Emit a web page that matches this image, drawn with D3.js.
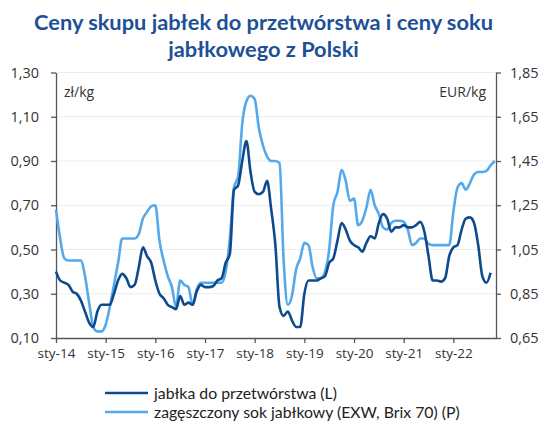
<!DOCTYPE html>
<html><head><meta charset="utf-8">
<script src="https://cdn.jsdelivr.net/npm/d3@7"></script>
<style>
html,body{margin:0;padding:0;background:#fff;}
svg{display:block;}
</style></head>
<body>
<svg id="chart" width="553" height="432"></svg>
<script>
const titleLines = ["Ceny skupu jabłek do przetwórstwa i ceny soku", "jabłkowego z Polski"];
const xTickLabels = ["sty-14","sty-15","sty-16","sty-17","sty-18","sty-19","sty-20","sty-21","sty-22"];
const leftTicks = [0.10,0.30,0.50,0.70,0.90,1.10,1.30];
const rightTicks = [0.65,0.85,1.05,1.25,1.45,1.65,1.85];
const seriesNames = ["jabłka do przetwórstwa (L)", "zagęszczony sok jabłkowy (EXW, Brix 70) (P)"];
// monthly values from Jan 2014 (PLN/kg)
const apples = [
 0.40,0.36,0.35,0.34,0.31,0.30,0.27,0.22,0.17,0.15,0.22,0.25,
 0.25,0.25,0.30,0.36,0.39,0.37,0.33,0.34,0.42,0.51,0.47,0.44,
 0.36,0.30,0.28,0.25,0.24,0.23,0.29,0.25,0.26,0.25,0.31,0.34,
 0.33,0.33,0.335,0.36,0.37,0.44,0.48,0.77,0.79,0.90,0.99,0.85,
 0.76,0.75,0.76,0.81,0.68,0.52,0.24,0.20,0.22,0.18,0.15,0.15,
 0.30,0.36,0.36,0.36,0.37,0.38,0.44,0.46,0.54,0.62,0.59,0.54,
 0.52,0.51,0.49,0.53,0.56,0.55,0.62,0.66,0.64,0.58,0.60,0.60,
 0.61,0.60,0.60,0.61,0.625,0.58,0.47,0.36,0.36,0.355,0.37,0.47,
 0.51,0.52,0.59,0.64,0.645,0.62,0.52,0.38,0.35,0.395
];
// monthly values from Jan 2014 (EUR/kg)
const juice = [
 1.23,1.10,1.01,1.00,1.00,1.00,1.00,0.93,0.81,0.70,0.68,0.68,
 0.71,0.79,0.89,0.99,1.10,1.10,1.10,1.10,1.12,1.19,1.22,1.245,
 1.25,1.09,1.00,0.93,0.88,0.79,0.91,0.89,0.88,0.80,0.87,0.90,
 0.90,0.90,0.90,0.90,0.90,0.95,1.10,1.33,1.38,1.62,1.72,1.745,
 1.73,1.60,1.52,1.47,1.45,1.45,1.44,1.00,0.80,0.84,0.96,1.01,
 1.08,1.07,0.97,0.92,0.92,0.95,1.05,1.25,1.31,1.41,1.36,1.27,
 1.28,1.16,1.18,1.24,1.32,1.25,1.21,1.15,1.14,1.17,1.18,1.18,
 1.175,1.14,1.07,1.08,1.10,1.10,1.075,1.07,1.07,1.07,1.07,1.07,
 1.22,1.33,1.35,1.32,1.35,1.39,1.40,1.40,1.405,1.43,1.45
];

const W = 553, H = 432;
const L = 56, R = 496, T = 72.5, B = 338;
const darkC = "#0d4a8e", lightC = "#55a8ea";
const svg = d3.select("#chart");

const x = d3.scaleLinear().domain([0, 106.3]).range([L, R]);
const yL = d3.scaleLinear().domain([0.10, 1.30]).range([B, T]);
const yR = d3.scaleLinear().domain([0.65, 1.85]).range([B, T]);
const fmt = d => d3.format(".2f")(d).replace(".", ",");

// title
svg.append("text").attr("x", 263.5).attr("text-anchor", "middle")
  .attr("font-family", "Lato, 'Open Sans', sans-serif").attr("font-weight", "bold")
  .attr("font-size", 21.8).attr("fill", "#1d5096")
  .selectAll("tspan").data(titleLines).join("tspan")
  .attr("x", 263.5).attr("y", (d, i) => 30 + i * 27).text(d => d);

// grid
svg.append("g").selectAll("line").data(leftTicks.slice(1)).join("line")
  .attr("x1", L).attr("x2", R).attr("y1", d => yL(d)).attr("y2", d => yL(d))
  .attr("stroke", "#ececec").attr("stroke-width", 1);

const axisFont = "'Open Sans', 'Noto Sans', sans-serif";
function styleAxis(g) {
  g.select(".domain").attr("stroke", "#555").attr("stroke-width", 1.3);
  g.selectAll(".tick line").attr("stroke", "#555").attr("stroke-width", 1.3);
  g.selectAll("text").attr("font-family", axisFont).attr("fill", "#333");
}
const gl = svg.append("g").attr("transform", `translate(${L},0)`)
  .call(d3.axisLeft(yL).tickValues(leftTicks).tickFormat(fmt).tickSize(5).tickSizeOuter(0).tickPadding(12));
styleAxis(gl); gl.selectAll("text").attr("font-size", 14.5);
const gr = svg.append("g").attr("transform", `translate(${R},0)`)
  .call(d3.axisRight(yR).tickValues(rightTicks).tickFormat(fmt).tickSize(5).tickSizeOuter(0).tickPadding(9));
styleAxis(gr); gr.selectAll("text").attr("font-size", 14.5);
const gx = svg.append("g").attr("transform", `translate(0,${B})`)
  .call(d3.axisBottom(x).tickValues(xTickLabels.map((d, i) => i * 12))
    .tickFormat((d, i) => xTickLabels[i]).tickSize(5).tickSizeOuter(0).tickPadding(5));
styleAxis(gx); gx.selectAll("text").attr("font-size", 13.5);

// units
svg.append("text").attr("x", 64).attr("y", 97).attr("font-family", axisFont)
  .attr("font-size", 14).attr("fill", "#333").text("zł/kg");
svg.append("text").attr("x", 486).attr("y", 97).attr("text-anchor", "end").attr("font-family", axisFont)
  .attr("font-size", 14).attr("fill", "#333").text("EUR/kg");

// lines
const lineR = d3.line().x((d, i) => x(i)).y(d => yR(d)).curve(d3.curveMonotoneX);
const lineL = d3.line().x((d, i) => x(i)).y(d => yL(d)).curve(d3.curveMonotoneX);
svg.append("path").attr("d", lineR(juice)).attr("fill", "none")
  .attr("stroke", lightC).attr("stroke-width", 2.6).attr("stroke-linejoin", "round");
svg.append("path").attr("d", lineL(apples)).attr("fill", "none")
  .attr("stroke", darkC).attr("stroke-width", 2.6).attr("stroke-linejoin", "round");

// legend
const leg = svg.append("g").selectAll("g").data(seriesNames).join("g")
  .attr("transform", (d, i) => `translate(105,${393 + i * 19})`);
leg.append("line").attr("x1", 0).attr("x2", 43).attr("y1", 0).attr("y2", 0)
  .attr("stroke", (d, i) => i === 0 ? darkC : lightC).attr("stroke-width", 2.6);
leg.append("text").attr("x", 49).attr("y", 5.5).attr("font-family", "Lato, 'Open Sans', sans-serif")
  .attr("font-size", 15.8).attr("fill", "#222").text(d => d);
</script>
</body></html>
